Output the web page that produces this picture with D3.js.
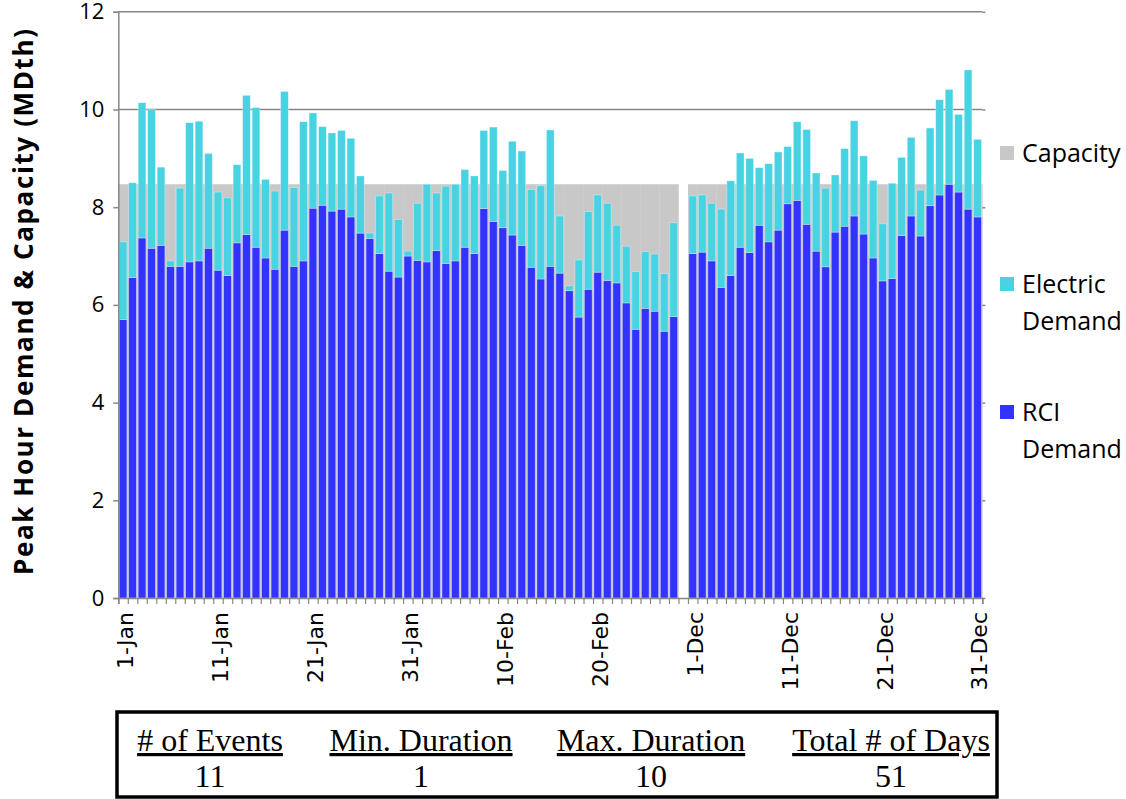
<!DOCTYPE html>
<html>
<head>
<meta charset="utf-8">
<script src="https://cdn.jsdelivr.net/npm/d3@7"></script>
<style>
  body { margin: 0; background: #fff; }
  svg { display: block; }
</style>
</head>
<body>
<svg width="1126" height="799"></svg>
<script>
// peak hour demand by day, Jan-Feb then Dec (MDth)
const janRci = [5.70, 6.56, 7.37, 7.16, 7.22, 6.79, 6.79, 6.88, 6.90, 7.16, 6.71, 6.60, 7.27, 7.44, 7.18, 6.96, 6.73, 7.53, 6.79, 6.90, 7.98, 8.04, 7.92, 7.96, 7.80, 7.47, 7.36, 7.05, 6.69, 6.57, 7.00];
const janElec = [1.59, 1.94, 2.77, 2.84, 1.60, 0.11, 1.60, 2.85, 2.86, 1.94, 1.60, 1.59, 1.60, 2.85, 2.86, 1.61, 1.60, 2.84, 1.61, 2.85, 1.95, 1.61, 1.60, 1.61, 1.61, 1.17, 0.11, 1.18, 1.60, 1.18, 0.10];
const febRci = [6.91, 6.88, 7.11, 6.85, 6.90, 7.18, 7.05, 7.97, 7.71, 7.58, 7.43, 7.22, 6.77, 6.53, 6.79, 6.65, 6.29, 5.75, 6.32, 6.67, 6.50, 6.45, 6.04, 5.50, 5.93, 5.87, 5.46, 5.76];
const febElec = [1.17, 1.59, 1.18, 1.58, 1.57, 1.59, 1.59, 1.60, 1.93, 1.17, 1.92, 1.93, 1.59, 1.91, 2.79, 1.17, 0.10, 1.17, 1.59, 1.58, 1.58, 1.18, 1.16, 1.18, 1.16, 1.17, 1.18, 1.92];
const decRci = [7.05, 7.08, 6.90, 6.36, 6.60, 7.18, 7.07, 7.63, 7.29, 7.53, 8.07, 8.14, 7.65, 7.10, 6.78, 7.49, 7.61, 7.82, 7.45, 6.96, 6.49, 6.54, 7.42, 7.82, 7.41, 8.03, 8.25, 8.47, 8.31, 7.96, 7.80];
const decElec = [1.18, 1.17, 1.18, 1.60, 1.94, 1.93, 1.93, 1.18, 1.60, 1.60, 1.17, 1.61, 1.94, 1.60, 1.61, 1.17, 1.59, 1.95, 1.60, 1.59, 1.17, 1.95, 1.60, 1.61, 0.94, 1.59, 1.95, 1.94, 1.59, 2.85, 1.59];
const capacity = 8.47;

const xTickLabels = ["1-Jan", "11-Jan", "21-Jan", "31-Jan", "10-Feb", "20-Feb", "1-Dec", "11-Dec", "21-Dec", "31-Dec"];
const yTicks = [0, 2, 4, 6, 8, 10, 12];
const gridValues = [10, 12];

const tableHeaders = ["# of Events", "Min. Duration", "Max. Duration", "Total # of Days"];
const tableValues = ["11", "1", "10", "51"];

// build the category list: Jan, Feb, an empty slot, Dec
let days = [];
function addMonth(name, rci, elec) {
    rci.forEach(function (v, i) {
        days.push({ label: (i + 1) + "-" + name, rci: v, elec: elec[i], cap: capacity });
    });
}
addMonth("Jan", janRci, janElec);
addMonth("Feb", febRci, febElec);
days.push({ label: "", rci: null, elec: null, cap: null });
addMonth("Dec", decRci, decElec);

const colors = { cap: "#c8c8c8", elec: "#48d3e3", rci: "#3333ff", axis: "#878787" };

let svg = d3.select("svg");

let x = d3.scaleBand()
    .domain(d3.range(days.length))
    .range([118.3, 982.3])
    .paddingInner(0.19)
    .paddingOuter(0.095);
let xFull = x.copy().paddingInner(0).paddingOuter(0);
let xEdge = d3.scaleLinear().domain([0, days.length]).range(x.range());
let y = d3.scaleLinear().domain([0, 12]).range([598, 11.8]);

// gridlines
svg.append("g")
    .selectAll("line")
    .data(gridValues)
    .join("line")
    .attr("x1", x.range()[0])
    .attr("x2", x.range()[1])
    .attr("y1", function (d) { return y(d); })
    .attr("y2", function (d) { return y(d); })
    .attr("stroke", colors.axis)
    .attr("stroke-width", 1.5);

// capacity (no gaps)
svg.append("g")
    .selectAll("rect")
    .data(days.filter(function (d) { return d.cap != null; }))
    .join("rect")
    .attr("x", function (d) { return xFull(days.indexOf(d)); })
    .attr("width", xFull.bandwidth() + 0.3)
    .attr("y", function (d) { return y(d.cap); })
    .attr("height", function (d) { return y(0) - y(d.cap); })
    .attr("fill", colors.cap);

// stacked demand bars
let bars = svg.append("g")
    .selectAll("g")
    .data(days.filter(function (d) { return d.rci != null; }))
    .join("g")
    .attr("transform", function (d) { return "translate(" + x(days.indexOf(d)) + ",0)"; });

bars.append("rect")
    .attr("width", x.bandwidth())
    .attr("y", function (d) { return y(d.rci); })
    .attr("height", function (d) { return y(0) - y(d.rci); })
    .attr("fill", colors.rci)
    .attr("stroke", "rgba(255,255,255,0.45)")
    .attr("stroke-width", 0.7);

bars.append("rect")
    .attr("width", x.bandwidth())
    .attr("y", function (d) { return y(d.rci + d.elec); })
    .attr("height", function (d) { return y(d.rci) - y(d.rci + d.elec); })
    .attr("fill", colors.elec)
    .attr("stroke", "rgba(255,255,255,0.45)")
    .attr("stroke-width", 0.7);

// y axis
let yAxis = svg.append("g")
    .attr("transform", "translate(" + x.range()[0] + ",0)")
    .call(d3.axisLeft(y).tickValues(yTicks).tickSize(5).tickPadding(9));
yAxis.select(".domain").attr("stroke", colors.axis).attr("stroke-width", 1.5);
yAxis.selectAll(".tick line").attr("stroke", colors.axis).attr("stroke-width", 1.5);
yAxis.selectAll("text")
    .attr("font-family", "Open Sans")
    .attr("font-size", 22)
    .attr("fill", "#000");

// small ticks on the right edge
let yRight = svg.append("g")
    .attr("transform", "translate(" + x.range()[1] + ",0)")
    .call(d3.axisRight(y).tickValues(yTicks).tickSize(3).tickFormat(""));
yRight.select(".domain").remove();
yRight.selectAll(".tick line").attr("stroke", colors.axis).attr("stroke-width", 1.5);

// x axis with a tick between every day
let xAxis = svg.append("g")
    .attr("transform", "translate(0," + y(0) + ")")
    .call(d3.axisBottom(xEdge).tickValues(d3.range(days.length + 1)).tickSize(6).tickFormat(""));
xAxis.select(".domain").attr("stroke", colors.axis).attr("stroke-width", 1.5);
xAxis.selectAll(".tick line").attr("stroke", colors.axis).attr("stroke-width", 1.2);

svg.append("g")
    .selectAll("text")
    .data(xTickLabels)
    .join("text")
    .attr("transform", function (d) {
        let i = days.findIndex(function (e) { return e.label === d; });
        return "translate(" + (x(i) + x.bandwidth() / 2) + ",612) rotate(-90)";
    })
    .attr("dy", "0.45em")
    .attr("text-anchor", "end")
    .attr("font-family", "DejaVu Sans")
    .attr("font-size", 22)
    .text(function (d) { return d; });

// y title
svg.append("text")
    .attr("transform", "translate(24,302) rotate(-90)")
    .attr("dy", "0.35em")
    .attr("text-anchor", "middle")
    .attr("font-family", "Open Sans")
    .attr("font-weight", "bold")
    .attr("font-size", 26)
    .attr("textLength", 546)
    .attr("lengthAdjust", "spacing")
    .text("Peak Hour Demand & Capacity (MDth)");

// legend
let legendItems = [
    { lines: ["Capacity"], color: colors.cap, y: 153 },
    { lines: ["Electric", "Demand"], color: colors.elec, y: 284 },
    { lines: ["RCI", "Demand"], color: colors.rci, y: 412 }
];
let legend = svg.append("g")
    .selectAll("g")
    .data(legendItems)
    .join("g")
    .attr("transform", function (d) { return "translate(1000," + d.y + ")"; });
legend.append("rect")
    .attr("x", 0)
    .attr("y", -7)
    .attr("width", 14)
    .attr("height", 14)
    .attr("fill", function (d) { return d.color; });
legend.append("text")
    .attr("x", 22)
    .attr("font-family", "Open Sans")
    .attr("font-size", 25)
    .selectAll("tspan")
    .data(function (d) { return d.lines; })
    .join("tspan")
    .attr("x", 22)
    .attr("y", function (d, i) { return i * 37; })
    .attr("dy", "0.35em")
    .text(function (d) { return d; });

// summary table
svg.append("rect")
    .attr("x", 117)
    .attr("y", 712)
    .attr("width", 880)
    .attr("height", 85)
    .attr("fill", "none")
    .attr("stroke", "#000")
    .attr("stroke-width", 3.5);

let colX = [210, 421, 651, 891];
let cols = svg.append("g")
    .selectAll("g")
    .data(tableHeaders)
    .join("g")
    .attr("transform", function (d, i) { return "translate(" + colX[i] + ",0)"; });
cols.append("text")
    .attr("y", 751)
    .attr("text-anchor", "middle")
    .attr("font-family", "Liberation Serif")
    .attr("font-size", 32)
    .style("text-decoration", "underline")
    .text(function (d) { return d; });
cols.append("text")
    .attr("y", 787)
    .attr("text-anchor", "middle")
    .attr("font-family", "Liberation Serif")
    .attr("font-size", 32)
    .text(function (d, i) { return tableValues[i]; });
</script>
</body>
</html>
